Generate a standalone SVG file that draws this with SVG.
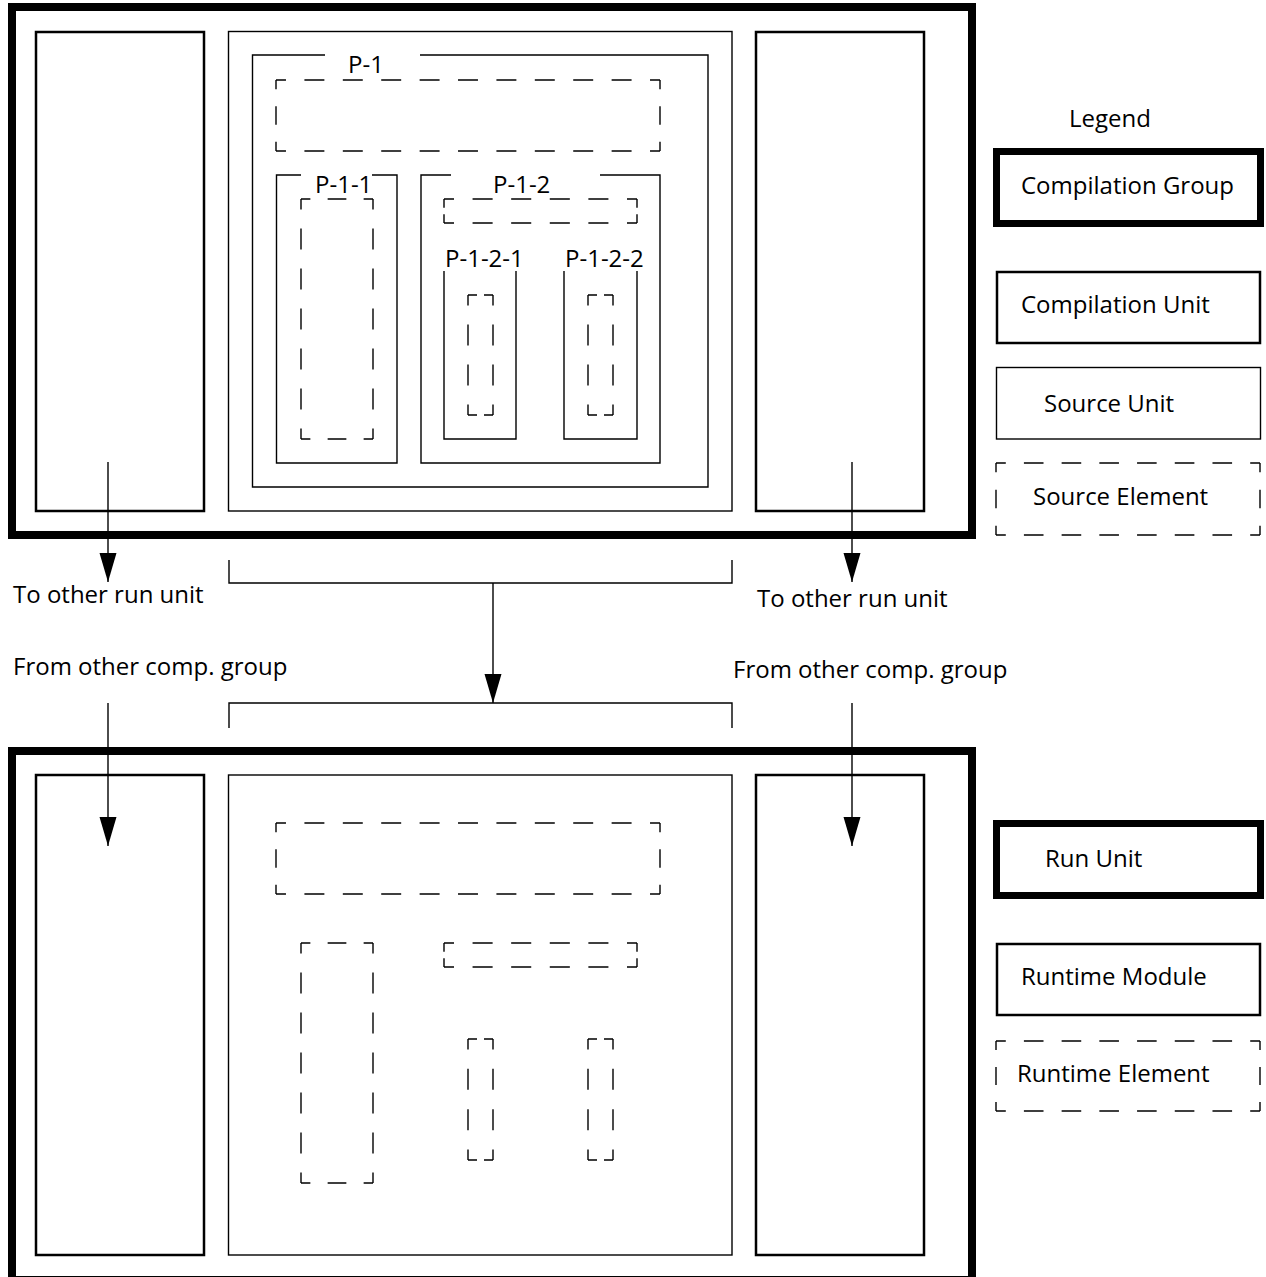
<svg xmlns="http://www.w3.org/2000/svg" width="1266" height="1277" viewBox="0 0 1266 1277">
<style>
  .bg{fill:#fff}
  rect,path{fill:none;stroke:#000}
  .grp{stroke-width:8}
  .lgrp{stroke-width:7}
  .cu{stroke-width:2.5}
  .su{stroke-width:1.4}
  .d{stroke-width:1.4;stroke-dasharray:0.52 0.48;stroke-dashoffset:0.26}
  .d1{stroke-width:1.4;stroke-dasharray:0.72 0.28;stroke-dashoffset:0.36}
  .cn{stroke-width:1.4}
  text{font-family:"Open Sans","Liberation Sans",sans-serif;font-size:24px;fill:#000}
</style>
<defs>
  <marker id="ah" markerUnits="userSpaceOnUse" markerWidth="30" markerHeight="18" refX="29" refY="8.5" orient="auto">
    <path d="M0,0 L29,8.5 L0,17 Z" style="fill:#000;stroke:none"/>
  </marker>
</defs>
<rect class="bg" x="0" y="0" width="1266" height="1277" style="fill:#fff;stroke:none"/>

<g id="compilation-group">
  <rect class="grp" x="12" y="7" width="960" height="528"/>
</g>
<g id="cu-left-top"><rect class="cu" x="36" y="32" width="168" height="479"/></g>
<g id="cu-right-top"><rect class="cu" x="756" y="32" width="168" height="479"/></g>
<g id="source-unit-top"><rect class="su" x="228.5" y="31.5" width="503.5" height="479.5"/></g>

<g id="p-1">
  <path class="su" d="M325,55 H252.5 V487 H708 V55 H420"/>
  <text x="348" y="73">P-1</text>
  <path class="d" pathLength="10" d="M276,80 H660"/>
  <path class="d" pathLength="10" d="M276,151 H660"/>
  <path class="d" pathLength="2" d="M276,80 V151"/>
  <path class="d" pathLength="2" d="M660,80 V151"/>
</g>
<g id="p-1-1">
  <path class="su" d="M301,175 H276.5 V463 H397 V175 H372"/>
  <text x="315" y="193">P-1-1</text>
  <path class="d" pathLength="2" d="M301,199 H373"/>
  <path class="d" pathLength="2" d="M301,439 H373"/>
  <path class="d" pathLength="6" d="M301,199 V439"/>
  <path class="d" pathLength="6" d="M373,199 V439"/>
</g>
<g id="p-1-2">
  <path class="su" d="M451,175 H421 V463 H660 V175 H600"/>
  <text x="493" y="193">P-1-2</text>
  <path class="d" pathLength="5" d="M444,199 H637"/>
  <path class="d" pathLength="5" d="M444,223 H637"/>
  <path class="d1" pathLength="1" d="M444,199 V223"/>
  <path class="d1" pathLength="1" d="M637,199 V223"/>
</g>
<g id="p-1-2-1">
  <path class="su" d="M444,271 V439 H516 V271"/>
  <text x="445" y="267">P-1-2-1</text>
  <path class="d1" pathLength="1" d="M468,295 H493"/>
  <path class="d1" pathLength="1" d="M468,415 H493"/>
  <path class="d" pathLength="3" d="M468,295 V415"/>
  <path class="d" pathLength="3" d="M493,295 V415"/>
</g>
<g id="p-1-2-2">
  <path class="su" d="M564,271 V439 H637 V271"/>
  <text x="565" y="267">P-1-2-2</text>
  <path class="d1" pathLength="1" d="M588,295 H613"/>
  <path class="d1" pathLength="1" d="M588,415 H613"/>
  <path class="d" pathLength="3" d="M588,295 V415"/>
  <path class="d" pathLength="3" d="M613,295 V415"/>
</g>

<g id="run-unit">
  <rect class="grp" x="12" y="751" width="960" height="529"/>
</g>
<g id="rm-left"><rect class="cu" x="36" y="775" width="168" height="480"/></g>
<g id="rm-right"><rect class="cu" x="756" y="775" width="168" height="480"/></g>
<g id="rm-middle"><rect class="su" x="228.5" y="775" width="503.5" height="480"/></g>
<g id="re-1">
  <path class="d" pathLength="10" d="M276,823 H660"/>
  <path class="d" pathLength="10" d="M276,894 H660"/>
  <path class="d" pathLength="2" d="M276,823 V894"/>
  <path class="d" pathLength="2" d="M660,823 V894"/>
</g>
<g id="re-2">
  <path class="d" pathLength="2" d="M301,943 H373"/>
  <path class="d" pathLength="2" d="M301,1183 H373"/>
  <path class="d" pathLength="6" d="M301,943 V1183"/>
  <path class="d" pathLength="6" d="M373,943 V1183"/>
</g>
<g id="re-3">
  <path class="d" pathLength="5" d="M444,943 H637"/>
  <path class="d" pathLength="5" d="M444,967 H637"/>
  <path class="d1" pathLength="1" d="M444,943 V967"/>
  <path class="d1" pathLength="1" d="M637,943 V967"/>
</g>
<g id="re-4">
  <path class="d1" pathLength="1" d="M468,1039 H493"/>
  <path class="d1" pathLength="1" d="M468,1160 H493"/>
  <path class="d" pathLength="3" d="M468,1039 V1160"/>
  <path class="d" pathLength="3" d="M493,1039 V1160"/>
</g>
<g id="re-5">
  <path class="d1" pathLength="1" d="M588,1039 H613"/>
  <path class="d1" pathLength="1" d="M588,1160 H613"/>
  <path class="d" pathLength="3" d="M588,1039 V1160"/>
  <path class="d" pathLength="3" d="M613,1039 V1160"/>
</g>

<g id="connectors">
  <path class="cn" d="M108,462 V582" marker-end="url(#ah)"/>
  <path class="cn" d="M852,462 V582" marker-end="url(#ah)"/>
  <path class="cn" d="M229,560 V583 H732 V560"/>
  <path class="cn" d="M493,583 V703" marker-end="url(#ah)"/>
  <path class="cn" d="M229,728 V703 H732 V728"/>
  <path class="cn" d="M108,703 V846" marker-end="url(#ah)"/>
  <path class="cn" d="M852,703 V846" marker-end="url(#ah)"/>
</g>
<g id="labels">
  <text x="13" y="603">To other run unit</text>
  <text x="757" y="607">To other run unit</text>
  <text x="13" y="675">From other comp. group</text>
  <text x="733" y="678">From other comp. group</text>
</g>

<g id="legend">
  <text x="1069" y="127">Legend</text>
  <g id="lg-compilation-group">
    <rect class="lgrp" x="996.5" y="151.5" width="264" height="72"/>
    <text x="1021" y="194">Compilation Group</text>
  </g>
  <g id="lg-compilation-unit">
    <rect class="cu" x="997" y="272" width="263" height="71"/>
    <text x="1021" y="313">Compilation Unit</text>
  </g>
  <g id="lg-source-unit">
    <rect class="su" x="996.5" y="367.5" width="264" height="71.5"/>
    <text x="1044" y="412">Source Unit</text>
  </g>
  <g id="lg-source-element">
    <path class="d" pathLength="7" d="M996,463 H1260"/>
    <path class="d" pathLength="7" d="M996,535 H1260"/>
    <path class="d" pathLength="2" d="M996,463 V535"/>
    <path class="d" pathLength="2" d="M1260,463 V535"/>
    <text x="1033" y="505">Source Element</text>
  </g>
  <g id="lg-run-unit">
    <rect class="lgrp" x="996.5" y="823.5" width="264" height="72"/>
    <text x="1045" y="867">Run Unit</text>
  </g>
  <g id="lg-runtime-module">
    <rect class="cu" x="997" y="944" width="263" height="71"/>
    <text x="1021" y="985">Runtime Module</text>
  </g>
  <g id="lg-runtime-element">
    <path class="d" pathLength="7" d="M996,1041 H1260"/>
    <path class="d" pathLength="7" d="M996,1111 H1260"/>
    <path class="d" pathLength="2" d="M996,1041 V1111"/>
    <path class="d" pathLength="2" d="M1260,1041 V1111"/>
    <text x="1017" y="1082">Runtime Element</text>
  </g>
</g>
</svg>
